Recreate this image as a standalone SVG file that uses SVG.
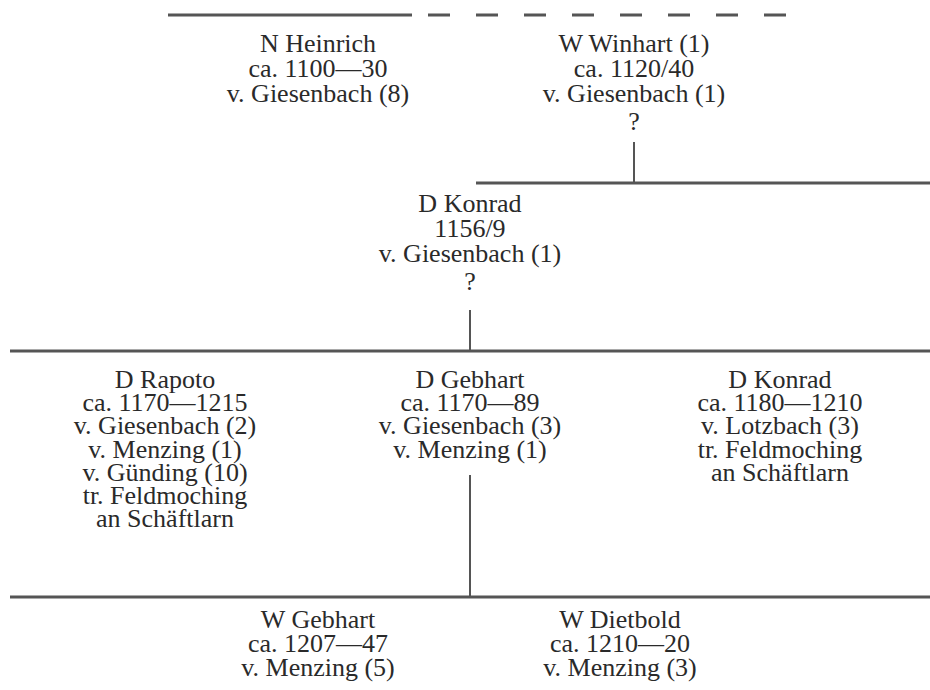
<svg xmlns="http://www.w3.org/2000/svg" width="930" height="690" viewBox="0 0 930 690">
<style>
text{font-family:"Liberation Serif","DejaVu Serif",serif;font-size:26px;fill:#2a2a2a;text-anchor:middle}
.h{stroke:#555;stroke-width:3;fill:none}
.v{stroke:#555;stroke-width:2;fill:none}
.d{stroke:#555;stroke-width:3;stroke-dasharray:22 26;fill:none}
</style>
<rect width="930" height="690" fill="#fff"/>
<g id="connectors">
<line class="h" x1="168" y1="15" x2="412" y2="15"/>
<line class="d" x1="428" y1="15" x2="790" y2="15"/>
<line class="v" x1="634" y1="142" x2="634" y2="183"/>
<line class="h" x1="476" y1="183" x2="930" y2="183"/>
<line class="v" x1="470" y1="310" x2="470" y2="351"/>
<line class="h" x1="10" y1="351" x2="930" y2="351"/>
<line class="v" x1="470" y1="475" x2="470" y2="597"/>
<line class="h" x1="10" y1="597" x2="930" y2="597"/>
</g>
<g id="heinrich">
<text x="318" y="52">N Heinrich</text>
<text x="318" y="77">ca. 1100—30</text>
<text x="318" y="102">v. Giesenbach (8)</text>
</g>
<g id="winhart">
<text x="634" y="52">W Winhart (1)</text>
<text x="634" y="77">ca. 1120/40</text>
<text x="634" y="102">v. Giesenbach (1)</text>
<text x="634" y="130">?</text>
</g>
<g id="konrad1">
<text x="470" y="212">D Konrad</text>
<text x="470" y="237">1156/9</text>
<text x="470" y="262">v. Giesenbach (1)</text>
<text x="470" y="290">?</text>
</g>
<g id="rapoto">
<text x="165" y="388">D Rapoto</text>
<text x="165" y="411">ca. 1170—1215</text>
<text x="165" y="434">v. Giesenbach (2)</text>
<text x="165" y="458">v. Menzing (1)</text>
<text x="165" y="481">v. Günding (10)</text>
<text x="165" y="504">tr. Feldmoching</text>
<text x="165" y="527">an Schäftlarn</text>
</g>
<g id="gebhart1">
<text x="470" y="388">D Gebhart</text>
<text x="470" y="411">ca. 1170—89</text>
<text x="470" y="434">v. Giesenbach (3)</text>
<text x="470" y="458">v. Menzing (1)</text>
</g>
<g id="konrad2">
<text x="780" y="388">D Konrad</text>
<text x="780" y="411">ca. 1180—1210</text>
<text x="780" y="434">v. Lotzbach (3)</text>
<text x="780" y="458">tr. Feldmoching</text>
<text x="780" y="481">an Schäftlarn</text>
</g>
<g id="gebhart2">
<text x="318" y="628">W Gebhart</text>
<text x="318" y="652">ca. 1207—47</text>
<text x="318" y="676">v. Menzing (5)</text>
</g>
<g id="dietbold">
<text x="620" y="628">W Dietbold</text>
<text x="620" y="652">ca. 1210—20</text>
<text x="620" y="676">v. Menzing (3)</text>
</g>
</svg>
